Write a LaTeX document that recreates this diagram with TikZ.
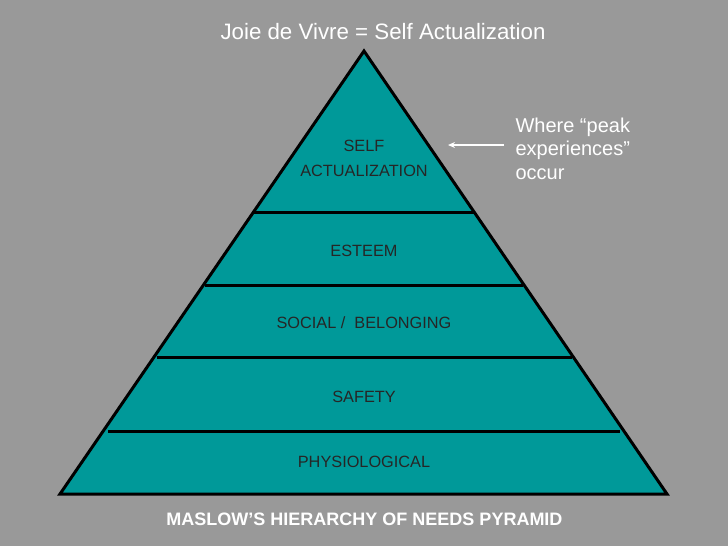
\documentclass[tikz,border=0pt]{standalone}
\usepackage{fontspec}
\usetikzlibrary{arrows.meta}
\setmainfont{Liberation Sans}
\definecolor{bg}{HTML}{999999}
\definecolor{teal}{HTML}{009999}
\begin{document}
\begin{tikzpicture}[x=1pt,y=-1pt,
  lvl/.style={font=\fontsize{16.3}{19}\selectfont, text=black!85, align=center},
  sep/.style={line width=3pt, black}]
\fill[bg] (0,0) rectangle (728,546);
\useasboundingbox (0,0) rectangle (728,546);
\coordinate (apex) at (364,51);
\coordinate (bl) at (60,494);
\coordinate (br) at (667,494);
\fill[teal] (apex) -- (br) -- (bl) -- cycle;
\draw[sep] (254,212) -- (474,212);
\draw[sep] (205,285) -- (523,285);
\draw[sep] (157,357) -- (572,357);
\draw[sep] (108,431) -- (620,431);
\draw[line width=3pt, line join=miter] (apex) -- (br) -- (bl) -- cycle;
\node[lvl] (sa) at (364,158) {SELF\\[6pt]ACTUALIZATION};
\node[lvl] (es) at (364,251) {ESTEEM};
\node[lvl] (so) at (364,323) {SOCIAL /\ \ BELONGING};
\node[lvl] (sf) at (364,397) {SAFETY};
\node[lvl] (ph) at (364,462) {PHYSIOLOGICAL};
\node[text=white, font=\fontsize{22.3}{26}\selectfont] (top) at (383,32) {Joie de Vivre = Self Actualization};
\node[text=white, font=\fontsize{20}{23.5}\selectfont, align=left, anchor=north west] (peak) at (512,114) {Where “peak\\experiences”\\occur};
\coordinate (as) at (504,145);
\coordinate (ae) at (448,145);
\draw[white, line width=1.5pt, -{Stealth[length=7pt,width=6pt]}] (as) -- (ae);
\node[text=white, font=\bfseries\fontsize{18}{21}\selectfont] (title) at (364.5,519) {MASLOW’S HIERARCHY OF NEEDS PYRAMID};
\end{tikzpicture}
\end{document}
